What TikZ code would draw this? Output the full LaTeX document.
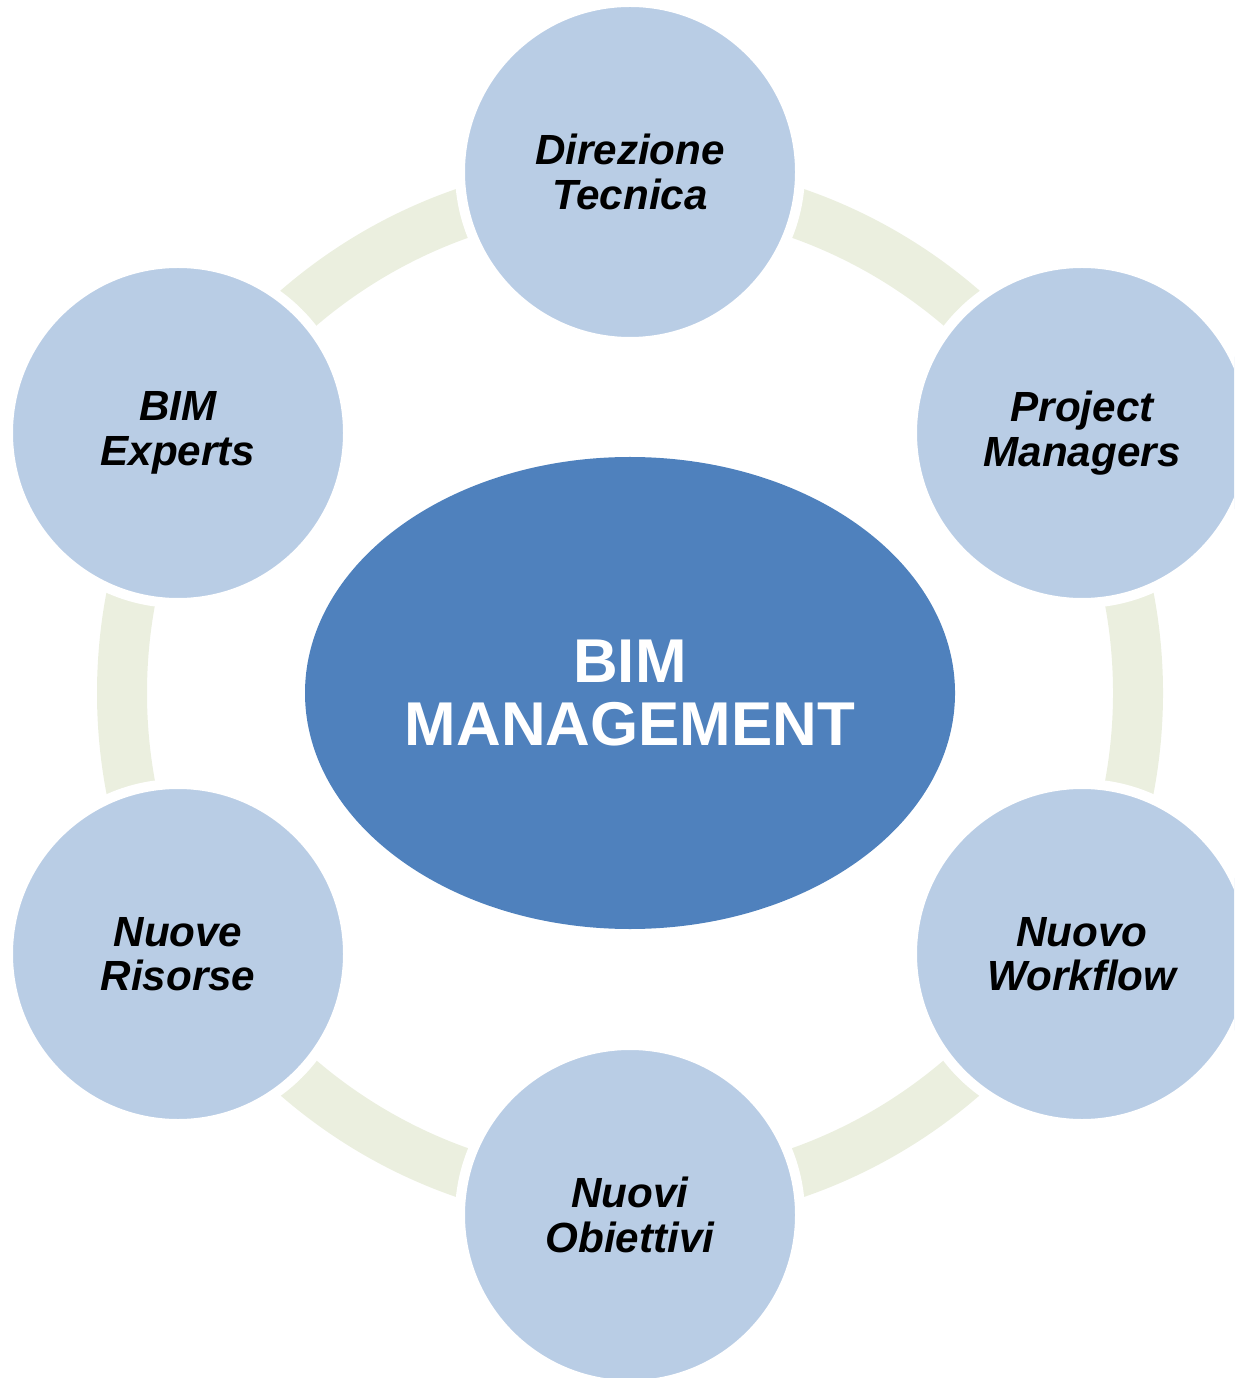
\documentclass[tikz,border=0pt]{standalone}
\usepackage{fontspec}
\setmainfont{Liberation Sans}
\usetikzlibrary{shapes.geometric}
\definecolor{ringgreen}{HTML}{EBEFDF}
\definecolor{topicblue}{HTML}{B9CDE5}
\definecolor{coreblue}{HTML}{4F81BD}
\tikzset{
    ring/.style={draw=ringgreen,line width=0.5cm},
    topic/.style={circle,fill=topicblue,draw=white,line width=0.1cm,minimum size=3.4cm,inner sep=0pt,
                  align=center,font=\fontsize{12}{12.6}\selectfont\bfseries\itshape},
    core/.style={ellipse,fill=coreblue,minimum width=6.5cm,minimum height=4.72cm,inner sep=0pt,
                 align=center,text=white,font=\fontsize{17.6}{17.9}\selectfont\bfseries},
}

\begin{document}
\begin{tikzpicture}
    \useasboundingbox (0,0) rectangle (12.34,-13.78);
    \clip (0,0) rectangle (12.34,-13.78);

    % centre
    \node[core] (bim) at (6.30,-6.93) {BIM\\MANAGEMENT};

    % ring behind the topics
    \draw[ring] (bim.center) circle (5.08);

    % topics
    \node[topic] (dir) at (6.30,-1.72)  {Direzione\\Tecnica};
    \node[topic] (pm)  at (10.82,-4.33) {Project\\Managers};
    \node[topic] (wf)  at (10.82,-9.54) {Nuovo\\Workflow};
    \node[topic] (obj) at (6.30,-12.15) {Nuovi\\Obiettivi};
    \node[topic] (ris) at (1.78,-9.54)  {Nuove\\Risorse};
    \node[topic] (exp) at (1.78,-4.33)  {BIM\\Experts};
\end{tikzpicture}
\end{document}
